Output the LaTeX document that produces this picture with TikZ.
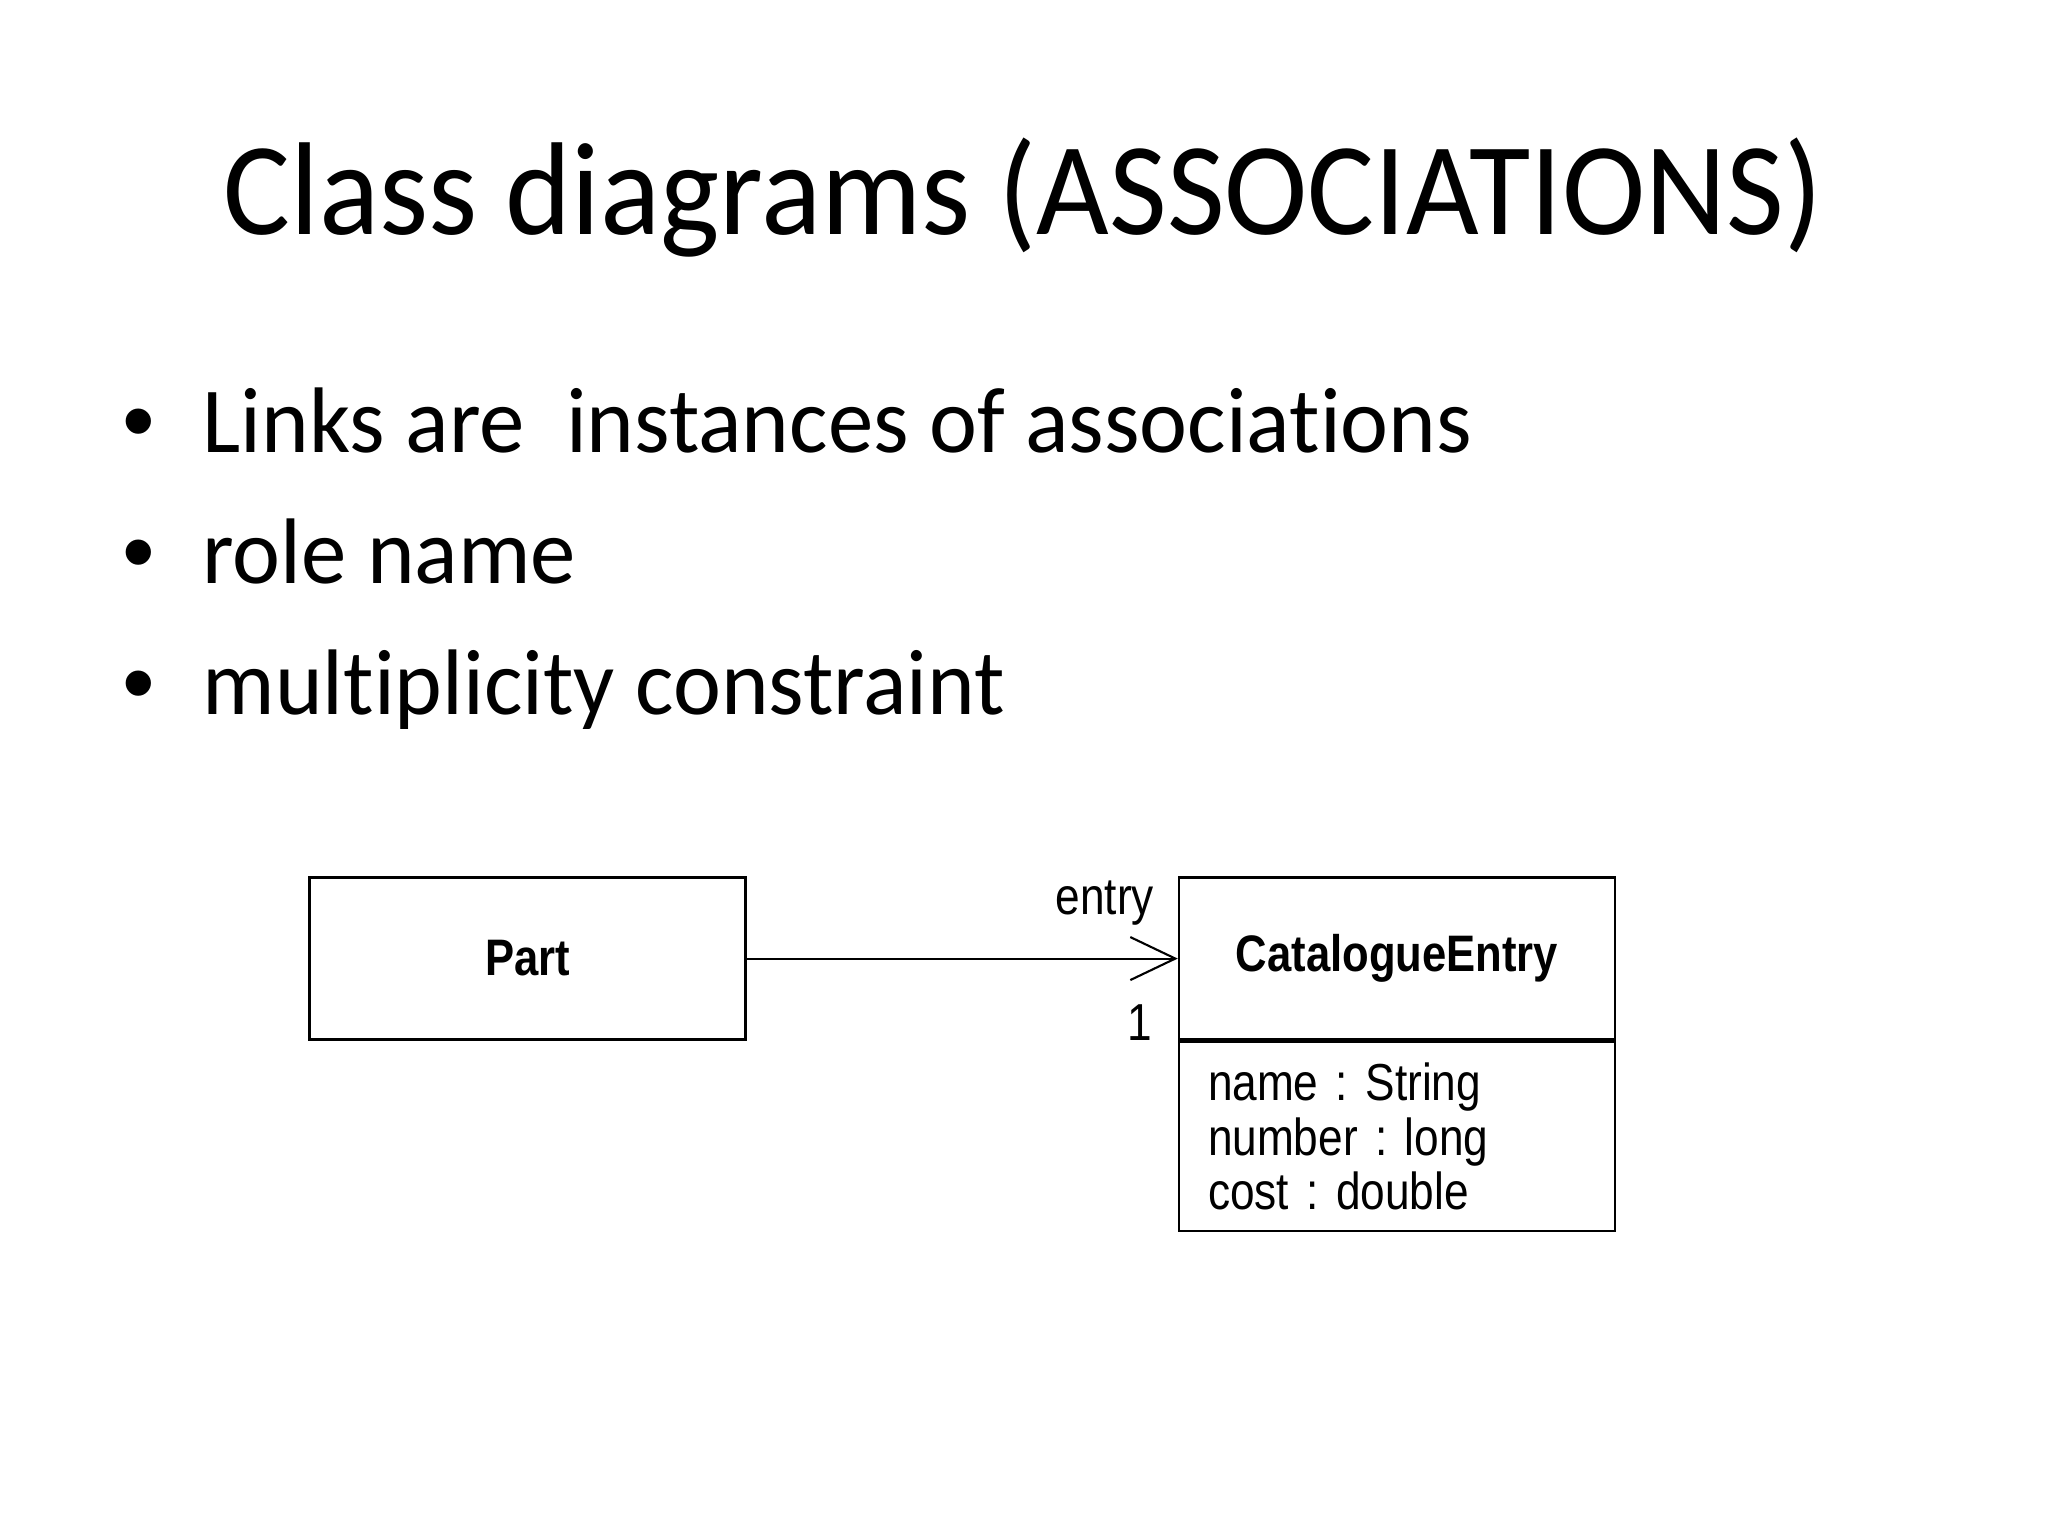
\documentclass[tikz,border=0pt]{standalone}
\usepackage{fontspec}
\setmainfont[FakeStretch=0.975,Ligatures=NoCommon]{Carlito}
\newfontfamily\titlefont[FakeStretch=0.95]{Carlito}
\newfontfamily\dotfont{Liberation Sans}
\newfontfamily\umlfont[FakeStretch=0.85]{Liberation Sans}
\usetikzlibrary{arrows.meta,positioning}
\begin{document}
\frenchspacing
\begin{tikzpicture}[every node/.style={inner sep=0pt},
  classbox/.style={draw,line width=0.7pt,minimum width=4.36cm,minimum height=1.62cm,font=\umlfont\bfseries\fontsize{14.6}{16}\selectfont},
  attrbox/.style={draw,line width=0.7pt,text width=3.78cm,inner xsep=0.29cm,minimum height=1.89cm,align=left,font=\umlfont\fontsize{14.8}{15.5}\selectfont},
  rolelabel/.style={anchor=base east,font=\umlfont\fontsize{14.8}{16}\selectfont},
  bulletline/.style={anchor=base west,font=\fontsize{26.5}{30}\selectfont},
  bulletdot/.style={anchor=base,font=\dotfont\fontsize{26.5}{30}\selectfont}]
\useasboundingbox[fill=white] (0,0) rectangle (20.48,15.36);
\coordinate (t) at (10.23,13.01);
\coordinate (d1) at (1.39,10.83);
\coordinate (d2) at (1.39,9.52);
\coordinate (d3) at (1.39,8.21);
\coordinate (l1) at (2.02,10.83);
\coordinate (l2) at (2.02,9.52);
\coordinate (l3) at (2.02,8.21);
\coordinate (p) at (5.276,5.774);
\coordinate (c) at (13.97,5.774);

  \node[anchor=base,font=\titlefont\fontsize{37.6}{42}\selectfont] (title) at (t) {Class diagrams (ASSOCIATIONS)};
  \node[bulletdot] (dot1) at (d1) {•};
  \node[bulletline] (item1) at (l1) {Links are\ \ instances of associations};
  \node[bulletdot] (dot2) at (d2) {•};
  \node[bulletline] (item2) at (l2) {role name};
  \node[bulletdot] (dot3) at (d3) {•};
  \node[bulletline] (item3) at (l3) {multiplicity constraint};

  \node[classbox] (part) at (p) {Part};
  \node[classbox] (entry) at (c) {CatalogueEntry};
  \node[attrbox,below=0pt of entry] (attrs) {name : String\\number : long\\cost : double};
  \draw[line width=0.6pt,-{Straight Barb[length=4.5mm,width=4.3mm,line width=0.6pt]}] (part) -- (entry);
  \node[rolelabel] (role) at ([shift={(-0.23,0.44)}]entry.west) {entry};
  \node[rolelabel] (mult) at ([shift={(-0.25,-0.82)}]entry.west) {1};
\end{tikzpicture}
\end{document}
